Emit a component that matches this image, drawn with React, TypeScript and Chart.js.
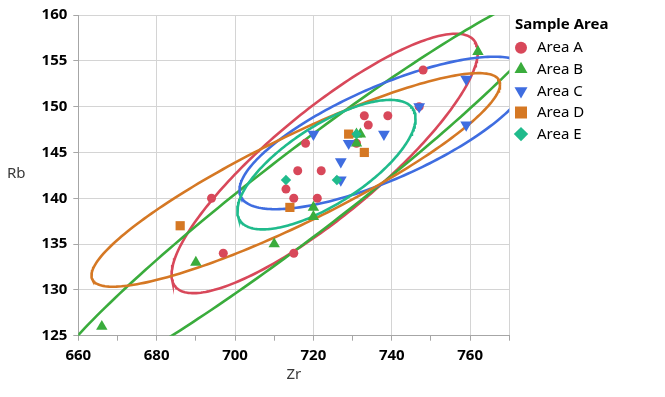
import React, { useEffect, useRef } from 'react';
import { Chart, registerables } from 'chart.js';

Chart.register(...registerables);

// ---------- data ----------
const seriesNames = ['Area A', 'Area B', 'Area C', 'Area D', 'Area E'];
const seriesColors = ['#d8485a', '#3aac3c', '#3f6de0', '#d57824', '#20bb8c'];
const seriesShapes = ['circle', 'triangle', 'triangleDown', 'rect', 'rectRot'];

const areaAZr = [694, 697, 715, 713, 715, 716, 718, 721, 722, 731, 733, 734, 739, 747, 748];
const areaARb = [140, 134, 134, 141, 140, 143, 146, 140, 143, 146, 149, 148, 149, 150, 154];

const areaBZr = [666, 690, 710, 720, 720, 731, 731, 732, 762];
const areaBRb = [126, 133, 135, 139, 138, 147, 146, 147, 156];

const areaCZr = [720, 727, 727, 729, 738, 747, 759, 759];
const areaCRb = [147, 144, 142, 146, 147, 150, 153, 148];

const areaDZr = [686, 714, 729, 733];
const areaDRb = [137, 139, 147, 145];

const areaEZr = [713, 726, 731];
const areaERb = [142, 142, 147];

const xTickLabels = [660, 680, 700, 720, 740, 760];
const yTickLabels = [125, 130, 135, 140, 145, 150, 155, 160];
const ellipseLevel = 0.95;

const allZr = [areaAZr, areaBZr, areaCZr, areaDZr, areaEZr];
const allRb = [areaARb, areaBRb, areaCRb, areaDRb, areaERb];

// ---------- helpers ----------
const FONT = "'Noto Sans', 'DejaVu Sans', sans-serif";

function densityEllipse(xs: number[], ys: number[], level: number, steps = 240) {
  const n = xs.length;
  const mx = xs.reduce((a, b) => a + b, 0) / n;
  const my = ys.reduce((a, b) => a + b, 0) / n;
  let sxx = 0, syy = 0, sxy = 0;
  for (let i = 0; i < n; i++) {
    sxx += (xs[i] - mx) ** 2;
    syy += (ys[i] - my) ** 2;
    sxy += (xs[i] - mx) * (ys[i] - my);
  }
  sxx /= n - 1; syy /= n - 1; sxy /= n - 1;
  const k = Math.sqrt(-2 * Math.log(1 - level));
  const a = Math.sqrt(sxx);
  const b = sxy / a;
  const c = Math.sqrt(Math.max(syy - b * b, 0));
  const pts: { x: number; y: number }[] = [];
  for (let i = 0; i <= steps; i++) {
    const t = (i / steps) * Math.PI * 2;
    pts.push({ x: mx + k * a * Math.cos(t), y: my + k * (b * Math.cos(t) + c * Math.sin(t)) });
  }
  return pts;
}

function drawShape(ctx: CanvasRenderingContext2D, shape: string, x: number, y: number, r: number) {
  ctx.beginPath();
  if (shape === 'circle') {
    ctx.arc(x, y, r, 0, Math.PI * 2);
  } else if (shape === 'triangle' || shape === 'triangleDown') {
    const s = shape === 'triangle' ? 1 : -1;
    ctx.moveTo(x, y - s * r);
    ctx.lineTo(x + r * 0.866, y + s * r * 0.5);
    ctx.lineTo(x - r * 0.866, y + s * r * 0.5);
    ctx.closePath();
  } else if (shape === 'rect') {
    ctx.rect(x - r, y - r, 2 * r, 2 * r);
  } else {
    ctx.moveTo(x, y - r);
    ctx.lineTo(x + r, y);
    ctx.lineTo(x, y + r);
    ctx.lineTo(x - r, y);
    ctx.closePath();
  }
  ctx.fill();
}

const overlayPlugin = {
  id: 'overlay',
  afterDraw(chart: any) {
    const ctx = chart.ctx as CanvasRenderingContext2D;
    ctx.save();
    // y-axis title (horizontal)
    ctx.fillStyle = '#3a3a3a';
    ctx.font = `15px ${FONT}`;
    ctx.textBaseline = 'middle';
    ctx.textAlign = 'left';
    ctx.fillText('Rb', 7, 174);
    // legend
    ctx.fillStyle = '#000';
    ctx.font = `bold 15px ${FONT}`;
    ctx.fillText('Sample Area', 515, 25);
    const sizes = [6, 7.5, 7.5, 6, 7.2];
    seriesNames.forEach((name, i) => {
      const y = 47.7 + i * 21.6;
      ctx.fillStyle = seriesColors[i];
      drawShape(ctx, seriesShapes[i], 521, y, sizes[i]);
      ctx.fillStyle = '#000';
      ctx.font = `15px ${FONT}`;
      ctx.fillText(name, 537, y + 0.5);
    });
    ctx.restore();
  },
};

export default function App() {
  const ref = useRef<HTMLCanvasElement | null>(null);

  useEffect(() => {
    if (!ref.current) return;
    const pointStyles: any[] = ['circle', 'triangle', 'triangle', 'rect', 'rectRot'];
    const pointRot = [0, 0, 180, 0, 0];
    const pointR = [4.5, 6.6, 6.8, 6.5, 5.2];

    const scatterSets = seriesNames.map((name, i) => ({
      type: 'scatter' as const,
      label: name,
      data: allZr[i].map((x, j) => ({ x, y: allRb[i][j] })),
      backgroundColor: seriesColors[i],
      borderColor: seriesColors[i],
      pointStyle: pointStyles[i],
      pointRotation: pointRot[i],
      pointRadius: pointR[i],
      pointBorderWidth: 0,
      order: seriesNames.length - i,
      clip: false as const,
    }));

    const ellipseSets = seriesNames.map((name, i) => ({
      type: 'line' as const,
      label: name + ' ellipse',
      data: densityEllipse(allZr[i], allRb[i], ellipseLevel),
      borderColor: seriesColors[i],
      borderWidth: 2.6,
      pointRadius: 0,
      fill: false,
      tension: 0,
      order: 20 - i,
      clip: 0,
    }));

    const gridGray = '#d4d4d4';
    const axisGray = '#a6a6a6';

    const chart = new Chart(ref.current, {
      type: 'scatter',
      data: { datasets: [...scatterSets, ...ellipseSets] as any },
      options: {
        animation: false,
        responsive: false,
        layout: { padding: { top: 12.7, right: 155.7, bottom: 0, left: 0 } },
        plugins: {
          legend: { display: false },
          tooltip: { enabled: false },
        },
        scales: {
          x: {
            type: 'linear',
            min: 660,
            max: 770,
            afterBuildTicks: (s: any) => {
              const t: any[] = [];
              for (let v = 660; v <= 770; v += 10) t.push({ value: v });
              s.ticks = t;
            },
            ticks: {
              autoSkip: false,
              maxRotation: 0,
              color: '#000',
              padding: 6,
              font: { family: FONT, size: 15, weight: 'bold' },
              callback: (v: any) => (xTickLabels.includes(Number(v)) ? String(v) : ''),
            },
            grid: {
              color: (c: any) =>
                c.tick && (xTickLabels.includes(c.tick.value) || c.tick.value === 770) ? gridGray : 'rgba(0,0,0,0)',
              tickColor: axisGray,
              tickLength: 5,
            },
            border: { color: axisGray, width: 1 },
            title: {
              display: true,
              text: 'Zr',
              color: '#3a3a3a',
              font: { family: FONT, size: 15 },
              padding: { top: 0, bottom: 13 },
            },
            afterFit: (s: any) => {
              s.height = 61.3;
            },
          } as any,
          y: {
            type: 'linear',
            min: 125,
            max: 160,
            afterBuildTicks: (s: any) => {
              s.ticks = yTickLabels.map((v) => ({ value: v }));
            },
            ticks: {
              color: '#000',
              padding: 6,
              font: { family: FONT, size: 15, weight: 'bold' },
              callback: (v: any) => String(v),
            },
            grid: { color: gridGray, tickColor: axisGray, tickLength: 5 },
            border: { color: axisGray, width: 1 },
            afterFit: (s: any) => {
              s.width = 78.3;
            },
          } as any,
        },
      },
      plugins: [overlayPlugin],
    });
    return () => chart.destroy();
  }, []);

  return (
    <div style={{ position: 'fixed', left: 0, top: 0, width: 665, height: 397, background: '#fff' }}>
      <canvas ref={ref} width={665} height={397} style={{ width: 665, height: 397, display: 'block' }} />
    </div>
  );
}
